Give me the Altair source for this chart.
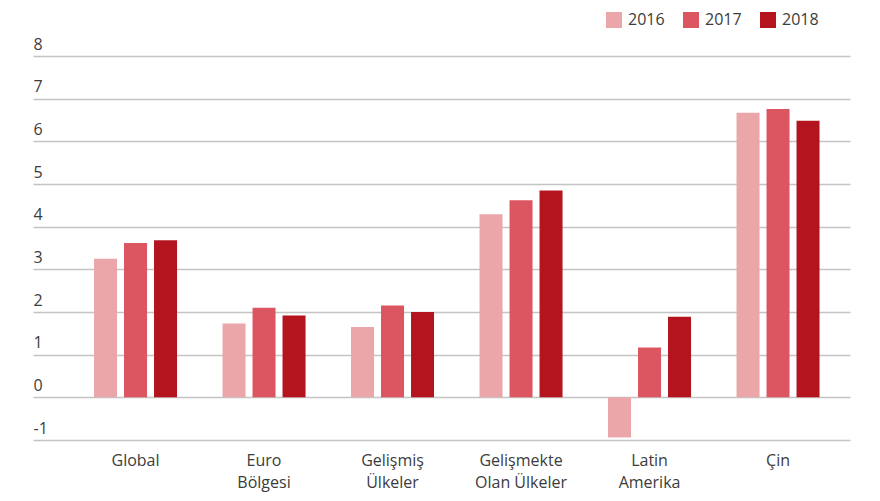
import altair as alt
import pandas as pd

categories = ["Global", "Euro\nBölgesi", "Gelişmiş\nÜlkeler", "Gelişmekte\nOlan Ülkeler", "Latin\nAmerika", "Çin"]
years = ["2016", "2017", "2018"]
v2016 = [3.25, 1.73, 1.65, 4.29, -0.94, 6.67]
v2017 = [3.62, 2.10, 2.15, 4.62, 1.17, 6.76]
v2018 = [3.68, 1.92, 2.00, 4.85, 1.89, 6.48]
colors = ["#eba6aa", "#dc5661", "#b3141e"]

rows = []
for i, c in enumerate(categories):
    for y, vals in zip(years, [v2016, v2017, v2018]):
        rows.append({"cat": c, "year": y, "value": vals[i]})
df = pd.DataFrame(rows)

font = "Open Sans"

chart = alt.Chart(df).mark_bar().encode(
    x=alt.X("cat:N", sort=categories, title=None,
            scale=alt.Scale(paddingInner=0.354, paddingOuter=0.356, align=0.667),
            axis=alt.Axis(labelAngle=0, domain=False, ticks=False, labelPadding=12,
                          labelFontSize=16, labelColor="#3c3c3c", labelFont=font,
                          labelLineHeight=22, labelBaseline="top",
                          labelExpr="split(datum.label, '\\n')")),
    xOffset=alt.XOffset("year:N", scale=alt.Scale(paddingInner=0.233, paddingOuter=0)),
    y=alt.Y("value:Q", title=None,
            scale=alt.Scale(domain=[-1, 8], nice=False, zero=False),
            axis=alt.Axis(values=list(range(-1, 9)), domain=False, ticks=False, tickSize=0,
                          labelAlign="left", labelBaseline="bottom", labelPadding=0,
                          labelOffset=-4, labelFontSize=16, labelColor="#3c3c3c",
                          labelFont=font, labelExpr="datum.value + ''",
                          gridColor="#c4c4c4", gridWidth=1.5)),
    color=alt.Color("year:N", scale=alt.Scale(domain=years, range=colors),
                    legend=alt.Legend(title=None, orient="none", direction="horizontal",
                                      legendX=573, legendY=-44, symbolType="square",
                                      symbolSize=256, symbolStrokeWidth=0, symbolOpacity=1,
                                      labelFontSize=16, labelColor="#3c3c3c", labelFont=font,
                                      columnPadding=18, labelOffset=6, padding=0)),
).properties(
    width=817, height=384,
    padding={"left": 25, "top": 48, "right": 10, "bottom": 60},
    autosize=alt.AutoSizeParams(type="none"),
).configure_view(stroke=None)

chart.save("out.html", embed_options={"renderer": "svg", "actions": False})
